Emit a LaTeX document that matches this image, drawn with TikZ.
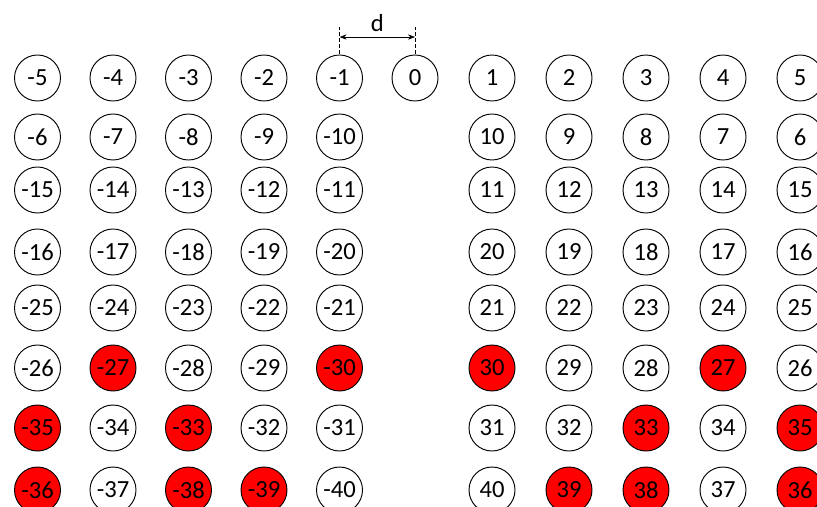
\documentclass[tikz,border=0pt]{standalone}
\usepackage{fontspec}
\setmainfont{Carlito}
\usetikzlibrary{arrows.meta,positioning,calc}

\begin{document}
\begin{tikzpicture}[
  x=0.03cm, y=-0.03cm,
  ring/.style={draw, circle, minimum size=1.38cm, inner sep=0pt, line width=0.8pt,
               font=\fontsize{21}{21}\selectfont},
  hot/.style={ring, fill=red},
  dimline/.style={line width=0.6pt, dash pattern=on 3pt off 2pt},
  >={Stealth[length=6pt]}
]
  \useasboundingbox (0,0) rectangle (817,506);
  \clip (0,0) rectangle (817,506);

  % left and right halves, row by row
  \foreach \y/\lefthalf/\righthalf in {
      78/{-5/ring,-4/ring,-3/ring,-2/ring,-1/ring}/{1/ring,2/ring,3/ring,4/ring,5/ring},
      137/{-6/ring,-7/ring,-8/ring,-9/ring,-10/ring}/{10/ring,9/ring,8/ring,7/ring,6/ring},
      190/{-15/ring,-14/ring,-13/ring,-12/ring,-11/ring}/{11/ring,12/ring,13/ring,14/ring,15/ring},
      252/{-16/ring,-17/ring,-18/ring,-19/ring,-20/ring}/{20/ring,19/ring,18/ring,17/ring,16/ring},
      308/{-25/ring,-24/ring,-23/ring,-22/ring,-21/ring}/{21/ring,22/ring,23/ring,24/ring,25/ring},
      368/{-26/ring,-27/hot,-28/ring,-29/ring,-30/hot}/{30/hot,29/ring,28/ring,27/hot,26/ring},
      428/{-35/hot,-34/ring,-33/hot,-32/ring,-31/ring}/{31/ring,32/ring,33/hot,34/ring,35/hot},
      490/{-36/hot,-37/ring,-38/hot,-39/hot,-40/ring}/{40/ring,39/hot,38/hot,37/ring,36/hot}} {
    \foreach \lab/\sty [count=\i] in \lefthalf
      \node[\sty] (n\lab) at ({37.5+75.5*(\i-1)},\y) {\lab};
    \foreach \lab/\sty [count=\i] in \righthalf
      \node[\sty] (n\lab) at ({492+77*(\i-1)},\y) {\lab};
  }
  \node[ring] (n0) at (415,78) {0};

  % spacing d
  \coordinate (dl) at ($(n-1.north)+(0,-17.5)$);
  \coordinate (dr) at ($(n0.north)+(0,-17.5)$);
  \draw[dimline] ($(n-1.north)+(0,-1)$) -- ($(dl)+(0,-10)$);
  \draw[dimline] ($(n0.north)+(0,-1)$) -- ($(dr)+(0,-10)$);
  \draw[<->, line width=0.6pt] (dl) -- (dr) node[midway, above=1pt, font=\fontsize{21}{21}\selectfont] {d};
\end{tikzpicture}
\end{document}
